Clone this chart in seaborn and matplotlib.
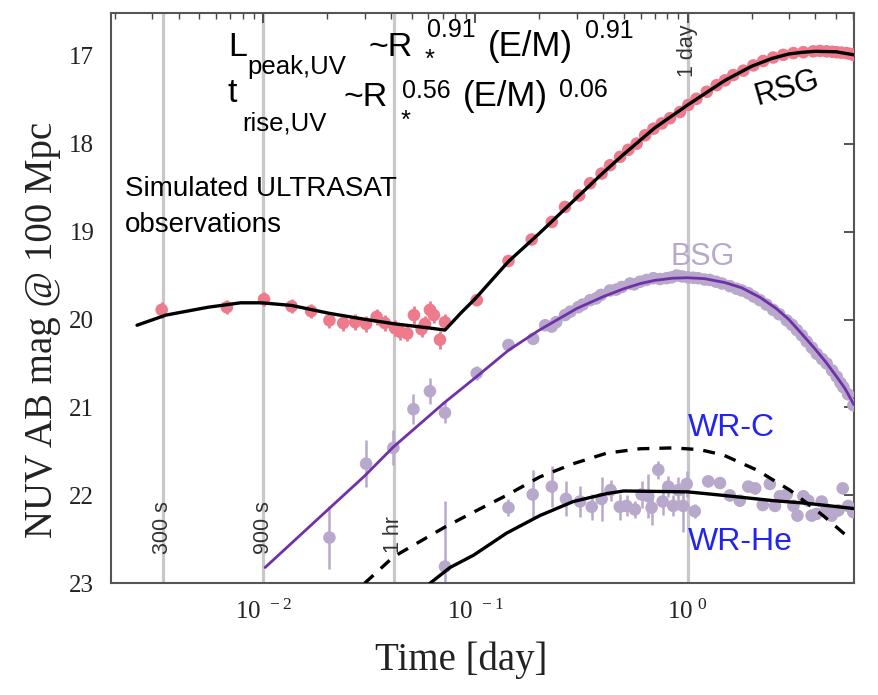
import matplotlib
matplotlib.use("Agg")
import matplotlib.pyplot as plt
import matplotlib.ticker as mticker
import seaborn as sns

# ---------------- data ----------------
# RSG simulated observations
rsg_t = [0.00332, 0.00673, 0.01008, 0.0136, 0.0168, 0.0205, 0.0238, 0.0271, 0.0305, 0.0342,
         0.0374, 0.0418, 0.0441, 0.0477, 0.0513, 0.0557, 0.0578, 0.0610, 0.0637, 0.0680,
         0.0718, 0.1014, 0.143, 0.184, 0.229, 0.264, 0.308, 0.347, 0.393, 0.431,
         0.480, 0.525, 0.575, 0.63, 0.69, 0.755, 0.826, 0.92, 1.007, 1.10,
         1.23, 1.37, 1.50, 1.64, 1.83, 2.04, 2.27, 2.53, 2.82, 3.15,
         3.51, 3.91, 4.2, 4.52, 4.8, 5.04, 5.3, 5.61, 5.85, 6.04]
rsg_m = [19.89, 19.86, 19.77, 19.85, 19.905, 20.01, 20.04, 20.03, 20.05, 19.97,
         20.04, 20.10, 20.14, 20.16, 19.95, 20.11, 20.05, 19.89, 19.95, 20.23,
         20.03, 19.78, 19.335, 19.09, 18.89, 18.72, 18.59, 18.45, 18.34, 18.245,
         18.15, 18.07, 18.0, 17.905, 17.83, 17.77, 17.71, 17.64, 17.56, 17.49,
         17.41, 17.335, 17.28, 17.22, 17.17, 17.11, 17.06, 17.02, 16.99, 16.97,
         16.96, 16.95, 16.945, 16.95, 16.955, 16.96, 16.965, 16.97, 16.98, 16.99]
rsg_err = [0.09, 0.08, 0.08, 0.08, 0.08, 0.09, 0.09, 0.09, 0.09, 0.09,
           0.09, 0.09, 0.09, 0.09, 0.10, 0.09, 0.09, 0.10, 0.09, 0.10,
           0.09, 0.06, 0.05, 0.04, 0.03, 0.03, 0.03, 0.03, 0.03, 0.03,
           0.02, 0.02, 0.02, 0.02, 0.02, 0.02, 0.02, 0.02, 0.02, 0.02,
           0.02, 0.02, 0.02, 0.02, 0.02, 0.02, 0.02, 0.02, 0.02, 0.02,
           0.02, 0.02, 0.02, 0.02, 0.02, 0.02, 0.02, 0.02, 0.02, 0.02]

# RSG model curve
rsg_line_t = [0.00254, 0.00347, 0.0055, 0.0068, 0.0078, 0.0098, 0.0136, 0.0205, 0.0305, 0.0418,
              0.060, 0.0718, 0.085, 0.1, 0.143, 0.2, 0.3, 0.4, 0.5, 0.7,
              1.0, 1.5, 2.0, 2.5, 3.0, 3.5, 4.0, 5.0, 6.08]
rsg_line_m = [20.065, 19.95, 19.86, 19.83, 19.81, 19.81, 19.84, 19.93, 20.0, 20.05,
              20.095, 20.12, 19.93, 19.76, 19.34, 19.02, 18.615, 18.33, 18.12, 17.82,
              17.56, 17.28, 17.12, 17.03, 16.98, 16.96, 16.95, 16.955, 16.99]

# BSG simulated observations
bsg_t = [0.0205, 0.0305, 0.041, 0.051, 0.061, 0.0718, 0.1014, 0.143, 0.187, 0.213,
         0.2286, 0.24, 0.264, 0.28, 0.305, 0.32, 0.347, 0.37, 0.39, 0.43,
         0.46, 0.489, 0.535, 0.56, 0.596, 0.64, 0.689, 0.74, 0.796, 0.84,
         0.888, 0.94, 1.0, 1.06, 1.12, 1.2, 1.27, 1.36, 1.45, 1.58,
         1.70, 1.8, 1.93, 2.05, 2.19, 2.35, 2.53, 2.7, 2.93, 3.1,
         3.27, 3.45, 3.64, 3.85, 4.06, 4.3, 4.52, 4.8, 5.04, 5.25,
         5.42, 5.7, 6.04]
bsg_m = [22.48, 21.64, 21.46, 21.02, 20.815, 21.06, 20.61, 20.29, 20.22, 20.065,
         20.08, 20.03, 19.95, 19.91, 19.86, 19.83, 19.78, 19.76, 19.72, 19.67,
         19.66, 19.63, 19.59, 19.60, 19.57, 19.55, 19.53, 19.54, 19.53, 19.52,
         19.50, 19.51, 19.52, 19.525, 19.53, 19.545, 19.55, 19.57, 19.59, 19.62,
         19.65, 19.67, 19.70, 19.74, 19.78, 19.83, 19.89, 19.94, 20.01, 20.06,
         20.12, 20.18, 20.25, 20.32, 20.39, 20.45, 20.50, 20.58, 20.65, 20.72,
         20.77, 20.85, 20.975]
bsg_err = [0.36, 0.27, 0.20, 0.17, 0.15, 0.12, 0.08, 0.06, 0.05, 0.05,
           0.04, 0.04, 0.04, 0.04, 0.04, 0.04, 0.04, 0.03, 0.03, 0.03,
           0.03, 0.03, 0.03, 0.03, 0.03, 0.03, 0.03, 0.03, 0.03, 0.03,
           0.03, 0.03, 0.03, 0.03, 0.03, 0.03, 0.03, 0.03, 0.03, 0.03,
           0.03, 0.03, 0.03, 0.03, 0.03, 0.03, 0.03, 0.03, 0.03, 0.03,
           0.03, 0.03, 0.03, 0.03, 0.03, 0.03, 0.03, 0.03, 0.03, 0.03,
           0.03, 0.03, 0.03]

# BSG model curve
bsg_line_t = [0.0102, 0.02, 0.03, 0.041, 0.0718, 0.1, 0.143, 0.2, 0.3, 0.4,
              0.5, 0.6, 0.7, 0.85, 1.0, 1.2, 1.5, 1.8, 2.2, 2.6,
              3.0, 3.5, 4.0, 4.5, 5.0, 5.5, 6.08]
bsg_line_m = [22.82, 22.17, 21.78, 21.45, 20.94, 20.66, 20.35, 20.12, 19.875, 19.74,
              19.65, 19.59, 19.555, 19.53, 19.525, 19.535, 19.58, 19.64, 19.75, 19.87,
              20.0, 20.18, 20.34, 20.49, 20.64, 20.78, 20.97]

# WR simulated observations
wr_t = [0.0718, 0.143, 0.186, 0.229, 0.267, 0.311, 0.353, 0.393, 0.433, 0.479,
        0.515, 0.564, 0.607, 0.652, 0.676, 0.727, 0.762, 0.81, 0.855, 0.903,
        0.953, 0.99, 1.08, 1.25, 1.42, 1.58, 1.76, 1.93, 2.08, 2.26,
        2.44, 2.58, 2.72, 2.93, 3.15, 3.29, 3.51, 3.70, 3.84, 4.05,
        4.28, 4.52, 4.77, 5.13, 5.38, 5.71, 6.03]
wr_m = [22.81, 22.14, 21.99, 21.90, 22.04, 22.07, 22.13, 22.04, 21.94, 22.13,
        22.12, 22.16, 21.99, 22.01, 22.14, 21.71, 22.07, 21.90, 22.12, 21.94,
        22.12, 21.87, 22.18, 21.84, 21.86, 22.0, 22.06, 21.90, 21.92, 22.11,
        21.87, 22.12, 22.01, 21.99, 22.12, 22.23, 22.01, 22.06, 22.23, 22.21,
        22.07, 22.16, 22.23, 22.17, 21.92, 22.12, 22.19]
wr_err = [0.75, 0.10, 0.28, 0.23, 0.20, 0.18, 0.15, 0.25, 0.12, 0.15,
          0.12, 0.10, 0.15, 0.25, 0.20, 0.10, 0.15, 0.12, 0.12, 0.15,
          0.30, 0.15, 0.08, 0.06, 0.06, 0.06, 0.06, 0.06, 0.06, 0.06,
          0.06, 0.06, 0.06, 0.06, 0.06, 0.06, 0.06, 0.06, 0.06, 0.06,
          0.06, 0.06, 0.06, 0.06, 0.06, 0.06, 0.06]

# WR-C model (dashed)
wrc_t = [0.030, 0.041, 0.0718, 0.098, 0.14, 0.201, 0.289, 0.415, 0.596, 0.855,
         1.14, 1.47, 2.11, 3.03, 4.35, 5.93]
wrc_m = [23.0, 22.70, 22.36, 22.19, 22.0, 21.79, 21.64, 21.52, 21.47, 21.46,
         21.48, 21.54, 21.71, 21.94, 22.23, 22.51]

# WR-He model (solid)
wrhe_t = [0.061, 0.0759, 0.098, 0.14, 0.201, 0.289, 0.415, 0.50, 1.0, 1.47,
          2.53, 3.64, 6.08]
wrhe_m = [23.0, 22.82, 22.68, 22.43, 22.23, 22.07, 21.98, 21.95, 21.96, 22.0,
          22.06, 22.09, 22.15]

# reference time markers
mark_t = [0.00336, 0.0100, 0.0412, 1.0]
mark_labels = ["300 s", "900 s", "1 hr", "1 day"]
mark_mag = [22.37, 22.37, 22.45, 16.94]

y_ticks = [17, 18, 19, 20, 21, 22, 23]
x_ticks = [0.01, 0.1, 1.0]
x_tick_labels = [r"$\mathregular{10^{\ -2}}$", r"$\mathregular{10^{\ -1}}$", r"$\mathregular{10^{\ 0}}$"]

# ---------------- styling ----------------
sns.set_theme(style="white")
plt.rcParams['font.family'] = ['Liberation Sans', 'DejaVu Sans']
plt.rcParams['mathtext.fontset'] = 'custom'
plt.rcParams['mathtext.rm'] = 'Liberation Serif'

RED = '#EE7B8C'
LPURP = '#B8A8CC'
DPURP = '#7030A8'
BLUE = '#2424F0'

W, H = 879, 695
fig = plt.figure(figsize=(W / 100, H / 100), dpi=100)
ax = fig.add_axes([111 / W, 1 - 583.3 / H, 743 / W, 570.3 / H])
ax.set_xscale('log')
ax.set_xlim(0.001915, 6.08)
ax.set_ylim(23.0, 16.514)

# vertical time markers
for t, lab, mg in zip(mark_t, mark_labels, mark_mag):
    ax.axvline(t, color='#C8C8C8', lw=2.3, zorder=0)
    ax.text(t, mg, lab, rotation=90, ha='center', va='center', fontsize=15.5,
            color='#333333', zorder=1)

# error bars + points
ax.errorbar(rsg_t, rsg_m, yerr=rsg_err, fmt='none', ecolor=RED, elinewidth=2.0, zorder=2)
ax.errorbar(bsg_t, bsg_m, yerr=bsg_err, fmt='none', ecolor=LPURP, elinewidth=1.8, zorder=2)
ax.errorbar(wr_t, wr_m, yerr=wr_err, fmt='none', ecolor=LPURP, elinewidth=1.8, zorder=2)
sns.scatterplot(x=rsg_t, y=rsg_m, color=RED, s=82, edgecolor='none', linewidth=0, ax=ax, zorder=3)
sns.scatterplot(x=bsg_t, y=bsg_m, color=LPURP, s=82, edgecolor='none', linewidth=0, ax=ax, zorder=3)
sns.scatterplot(x=wr_t, y=wr_m, color=LPURP, s=82, edgecolor='none', linewidth=0, ax=ax, zorder=3)

# model lines
sns.lineplot(x=rsg_line_t, y=rsg_line_m, color='black', lw=2.4, sort=False,
             estimator=None, ax=ax, zorder=4)
sns.lineplot(x=bsg_line_t, y=bsg_line_m, color=DPURP, lw=2.0, sort=False,
             estimator=None, ax=ax, zorder=4)
sns.lineplot(x=wrc_t, y=wrc_m, color='black', lw=2.4, sort=False, estimator=None,
             ax=ax, zorder=4, linestyle=(0, (3.6, 3.0)))
sns.lineplot(x=wrhe_t, y=wrhe_m, color='black', lw=2.4, sort=False, estimator=None,
             ax=ax, zorder=4)

# axes & ticks
ax.set_yticks(y_ticks, labels=[str(v) for v in y_ticks], fontfamily='Liberation Serif',
              fontsize=18, color='#222222')
ax.set_xticks(x_ticks, labels=x_tick_labels, fontfamily='Liberation Serif',
              fontsize=18, color='#222222')
ax.xaxis.set_minor_locator(mticker.LogLocator(base=10, subs=range(2, 10), numticks=20))
ax.xaxis.set_minor_formatter(mticker.NullFormatter())
ax.yaxis.set_minor_locator(mticker.NullLocator())
ax.tick_params(axis='both', which='both', direction='in', top=True, right=True,
               color='#444444')
ax.tick_params(which='major', length=7, width=1.3)
ax.tick_params(which='minor', length=4, width=1.0)
ax.tick_params(axis='y', pad=12)
ax.tick_params(axis='x', pad=12)
for sp in ax.spines.values():
    sp.set_color('#555555')
    sp.set_linewidth(1.5)

ax.set_xlabel('Time [day]', fontfamily='Liberation Serif', fontsize=28, color='#222222')
ax.xaxis.set_label_coords((461 - 111) / 743, (583.3 - 670) / 570.3)
ax.xaxis.label.set_va('baseline')
ax.set_ylabel('NUV AB mag @ 100 Mpc', fontfamily='Liberation Serif', fontsize=28,
              color='#222222')
ax.yaxis.set_label_coords((43 - 111) / 743, (583.3 - 330) / 570.3)
ax.yaxis.label.set_va('center')


def ftext(x, y, s, size, **kw):
    fig.text(x / W, 1 - y / H, s, fontsize=size, va='baseline', ha='left', color='black', **kw)


# formula texts
ftext(228, 56, 'L', 24.5)
ftext(247, 74, 'peak,UV', 18.5)
ftext(369, 56, '~R', 24.5)
ftext(425, 67, '*', 18.5)
ftext(427, 37, '0.91', 18)
ftext(488, 56, '(E/M)', 25)
ftext(585, 38, '0.91', 18)

ftext(228, 101.5, 't', 24.5)
ftext(242, 130, 'rise,UV', 18.5)
ftext(344, 106, '~R', 24.5)
ftext(401, 128, '*', 18.5)
ftext(402, 98, '0.56', 18)
ftext(463, 106, '(E/M)', 25)
ftext(559, 97, '0.06', 18)

ftext(125, 196.5, 'Simulated ULTRASAT', 20)
ftext(125, 231.5, 'observations', 20)

# curve labels
fig.text(787 / W, 1 - 88 / H, 'RSG', fontsize=22, rotation=16, ha='center', va='center',
         color='black')
fig.text(703 / W, 1 - 257.5 / H, 'BSG', fontsize=22, color=LPURP, ha='center', va='center')
ftext_c = dict(fontsize=23, va='baseline', ha='left', color=BLUE)
fig.text(688 / W, 1 - 436 / H, 'WR-C', **ftext_c)
fig.text(688 / W, 1 - 550 / H, 'WR-He', **ftext_c)

fig.savefig('out.png', dpi=100)
